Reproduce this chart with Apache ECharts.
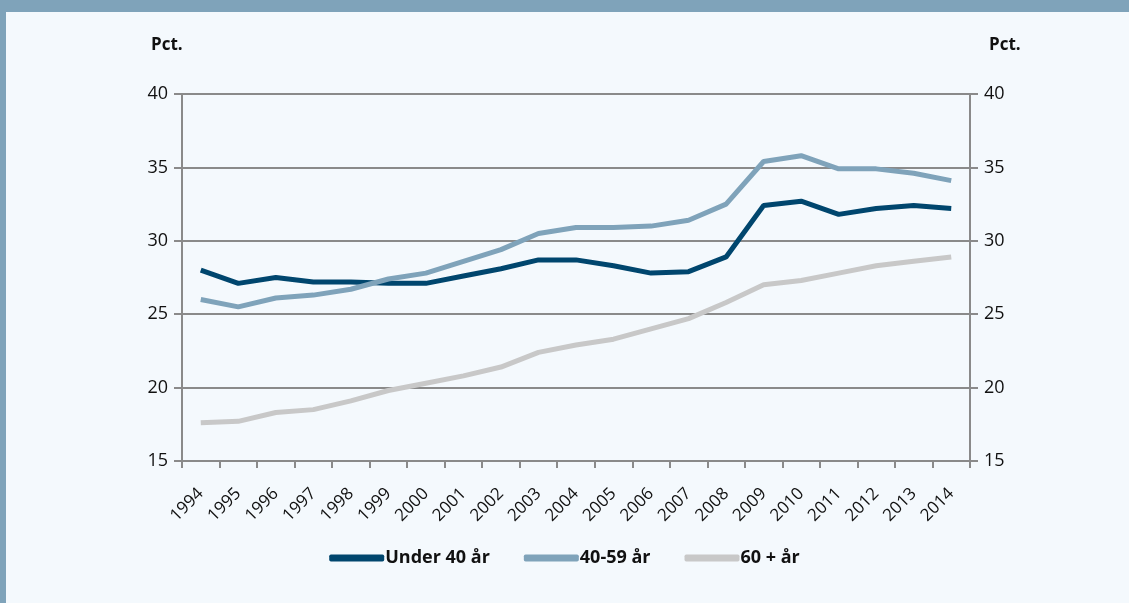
<!DOCTYPE html>
<html><head><meta charset="utf-8">
<script src="https://cdn.jsdelivr.net/npm/echarts@6/dist/echarts.min.js"></script>
<style>
html,body{margin:0;padding:0;width:1129px;height:603px;overflow:hidden;background:#f4f9fd;}
#band{position:absolute;left:0;top:0;width:1129px;height:12px;background:#7fa3ba;}
#lb{position:absolute;left:0;top:0;width:6px;height:603px;background:#7fa3ba;}
#chart{position:absolute;left:0;top:0;width:1129px;height:603px;}
</style></head>
<body>
<div id="chart"></div>
<div id="band"></div>
<div id="lb"></div>
<script>
const categories = ['1994','1995','1996','1997','1998','1999','2000','2001','2002','2003','2004','2005','2006','2007','2008','2009','2010','2011','2012','2013','2014'];
const under40 = [28.0,27.1,27.5,27.2,27.2,27.1,27.1,27.6,28.1,28.7,28.7,28.3,27.8,27.9,28.9,32.4,32.7,31.8,32.2,32.4,32.2];
const age4059 = [26.0,25.5,26.1,26.3,26.7,27.4,27.8,28.6,29.4,30.5,30.9,30.9,31.0,31.4,32.5,35.4,35.8,34.9,34.9,34.6,34.1];
const age60 = [17.6,17.7,18.3,18.5,19.1,19.8,20.3,20.8,21.4,22.4,22.9,23.3,24.0,24.7,25.8,27.0,27.3,27.8,28.3,28.6,28.9];
const seriesNames = ['Under 40 år','40-59 år','60 + år'];
const unitLabel = 'Pct.';

const font = '"Open Sans", Lato, sans-serif';
const axisColor = '#8a8a8a';
const chart = echarts.init(document.getElementById('chart'));
const yAx = (pos) => ({
  type:'value', position:pos, min:15, max:40, interval:5,
  axisLine:{show:true,lineStyle:{color:axisColor,width:2}},
  axisTick:{show:true,length:8,lineStyle:{color:axisColor,width:2}},
  axisLabel:{color:'#111',fontSize:18,fontFamily:font,margin:14},
  splitLine:{show:pos==='left',lineStyle:{color:axisColor,width:2}}
});
chart.setOption({
  backgroundColor:'#f4f9fd',
  animation:false,
  grid:{left:182,right:159,top:94,bottom:142},
  graphic:[
    {type:'text',left:151,top:37,style:{text:unitLabel,font:'bold 17px '+font,fill:'#111'}},
    {type:'text',left:989,top:37,style:{text:unitLabel,font:'bold 17px '+font,fill:'#111'}}
  ],
  legend:{
    bottom:31,left:'center',itemWidth:55,itemHeight:7,itemGap:34,icon:'roundRect',
    textStyle:{fontSize:18,fontWeight:'bold',fontFamily:font,color:'#111',padding:[0,0,0,-4]},
    data:seriesNames
  },
  xAxis:{
    type:'category',data:categories,boundaryGap:true,
    axisLine:{lineStyle:{color:axisColor,width:2}},
    axisTick:{show:true,length:7,lineStyle:{color:axisColor,width:2}},
    axisLabel:{rotate:45,color:'#111',fontSize:17,fontFamily:font,margin:30,interval:0}
  },
  yAxis:[yAx('left'),yAx('right')],
  series:[
    {name:seriesNames[0],type:'line',data:under40,symbol:'none',lineStyle:{width:5,color:'#00466e'},itemStyle:{color:'#00466e'}},
    {name:seriesNames[1],type:'line',data:age4059,symbol:'none',lineStyle:{width:5,color:'#7fa3ba'},itemStyle:{color:'#7fa3ba'}},
    {name:seriesNames[2],type:'line',data:age60,symbol:'none',lineStyle:{width:5,color:'#c8c8c8'},itemStyle:{color:'#c8c8c8'}}
  ]
});
</script>
</body></html>
